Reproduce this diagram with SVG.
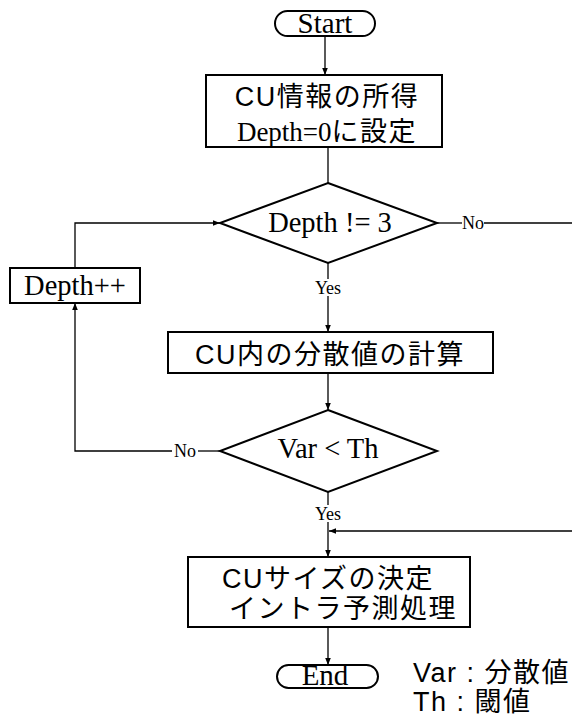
<svg xmlns="http://www.w3.org/2000/svg" width="572" height="719" viewBox="0 0 572 719">
<defs>
<marker id="ah" viewBox="0 0 10 10" refX="10" refY="5" markerWidth="8" markerHeight="7" orient="auto" markerUnits="userSpaceOnUse"><path d="M0,1 L10,5 L0,9 z" fill="#000"/></marker>
<style>
.s{fill:#fff;stroke:#000;stroke-width:2}
.l{fill:none;stroke:#000;stroke-width:1.3}
.serif{font-family:"Liberation Serif","Noto Serif CJK JP",serif;fill:#000}
.jp{font-family:"Liberation Sans","Noto Sans CJK JP",sans-serif;fill:#000;font-size:27px;letter-spacing:1.5px}
.sm{font-family:"Liberation Serif",serif;font-size:18px;fill:#000}
</style>
</defs>
<rect width="572" height="719" fill="#fff"/>
<g id="connectors">
<line class="l" x1="325" y1="36" x2="325" y2="75" marker-end="url(#ah)"/>
<line class="l" x1="328" y1="147" x2="328" y2="183"/>
<line class="l" x1="437" y1="223" x2="462" y2="223"/>
<line class="l" x1="484" y1="223" x2="572" y2="223"/>
<line class="l" x1="328" y1="263" x2="328" y2="279"/>
<line class="l" x1="328" y1="296" x2="328" y2="332" marker-end="url(#ah)"/>
<polyline class="l" points="75,268 75,223 220,223" marker-end="url(#ah)"/>
<line class="l" x1="328" y1="373" x2="328" y2="410" marker-end="url(#ah)"/>
<line class="l" x1="220" y1="451" x2="198" y2="451"/>
<polyline class="l" points="172,451 75,451 75,303" marker-end="url(#ah)"/>
<line class="l" x1="328" y1="492" x2="328" y2="505"/>
<line class="l" x1="328" y1="522" x2="328" y2="557" marker-end="url(#ah)"/>
<line class="l" x1="572" y1="531" x2="329" y2="531" marker-end="url(#ah)"/>
<line class="l" x1="328" y1="627" x2="328" y2="665" marker-end="url(#ah)"/>
<text class="sm" x="473" y="229" text-anchor="middle">No</text>
<text class="sm" x="328" y="294" text-anchor="middle">Yes</text>
<text class="sm" x="185" y="457" text-anchor="middle">No</text>
<text class="sm" x="328" y="520" text-anchor="middle">Yes</text>
</g>
<g id="start">
<rect class="s" x="275" y="11" width="100" height="25" rx="12.5" stroke-width="1.3"/>
<text class="serif" x="325" y="33" font-size="29" text-anchor="middle">Start</text>
</g>
<g id="init">
<rect class="s" x="206" y="75" width="236" height="72"/>
<text class="jp" x="327" y="106" text-anchor="middle">CU情報の所得</text>
<text class="serif" x="327" y="141" font-size="27" text-anchor="middle">Depth=0<tspan class="jp" letter-spacing="4">に設定</tspan></text>
</g>
<g id="depthCheck">
<polygon class="s" points="328,183 437,223 328,263 220,223" stroke-width="1.5"/>
<text class="serif" x="330" y="232" font-size="28.5" text-anchor="middle">Depth != 3</text>
</g>
<g id="depthInc">
<rect class="s" x="10" y="268" width="130" height="35" stroke-width="1.5"/>
<text class="serif" x="75" y="295" font-size="28.5" text-anchor="middle">Depth++</text>
</g>
<g id="variance">
<rect class="s" x="168" y="332" width="325" height="41"/>
<text class="jp" x="330" y="364" text-anchor="middle" letter-spacing="2">CU内の分散値の計算</text>
</g>
<g id="varCheck">
<polygon class="s" points="328,410 437,451 328,492 220,451" stroke-width="1.5"/>
<text class="serif" x="328" y="458" font-size="28.5" text-anchor="middle">Var &lt; Th</text>
</g>
<g id="decide">
<rect class="s" x="188" y="557" width="282" height="70"/>
<text class="jp" x="328" y="588" text-anchor="middle">CUサイズの決定</text>
<text class="jp" x="343" y="618" text-anchor="middle" letter-spacing="2">イントラ予測処理</text>
</g>
<g id="end">
<rect class="s" x="277" y="665" width="101" height="23" rx="11.5" stroke-width="1.3"/>
<text class="serif" x="325" y="685" font-size="29" text-anchor="middle">End</text>
</g>
<g id="legend">
<text class="jp" x="413" y="682" letter-spacing="0.5">Var : 分散値</text>
<text class="jp" x="413" y="711" letter-spacing="0.5">Th : 閾値</text>
</g>
</svg>
